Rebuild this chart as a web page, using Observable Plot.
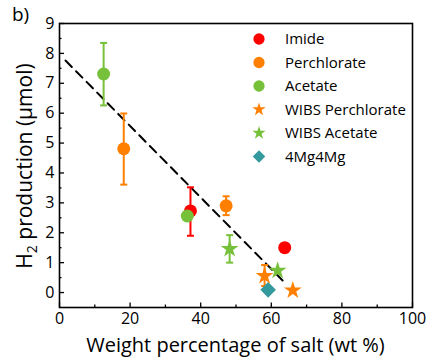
<!DOCTYPE html>
<html>
<head>
<meta charset="utf-8">
<script src="https://cdn.jsdelivr.net/npm/d3@7"></script>
<script src="https://cdn.jsdelivr.net/npm/@observablehq/plot@0.6"></script>
<style>
  body { margin: 0; background: #fff; }
  #chart { position: relative; width: 428px; height: 360px; }
  #chart .panel { position: absolute; left: 12px; top: 1px; font: 19px "Open Sans", sans-serif; color: #000; }
</style>
</head>
<body>
<div id="chart"><div class="panel">b)</div></div>
<script>
// Series definitions
const seriesNames = ["Imide", "Perchlorate", "Acetate", "WIBS Perchlorate", "WIBS Acetate", "4Mg4Mg"];
const seriesColors = ["#ff0000", "#ff8000", "#77c13a", "#ff8000", "#77c13a", "#33999c"];
const seriesSymbols = ["circle", "circle", "circle", "star", "star", "diamond2"];

// Points (in drawing order)
const pointSeries = ["Perchlorate", "Acetate", "Imide", "Acetate", "Perchlorate", "WIBS Acetate", "Imide", "WIBS Acetate", "WIBS Perchlorate", "4Mg4Mg", "WIBS Perchlorate"];
const pointX =      [18.2, 12.5, 37.1, 36.2, 47.2, 48.2, 63.8, 61.8, 58.1, 59.1, 66.1];
const pointY =      [4.81, 7.31, 2.73, 2.56, 2.90, 1.46, 1.50, 0.73, 0.56, 0.09, 0.07];
const errLow =      [3.61, 6.26, 1.90, null, 2.59, 1.00, null, null, 0.22, null, null];
const errHigh =     [5.99, 8.35, 3.52, null, 3.22, 1.92, null, null, 0.92, null, null];

// Dashed linear fit endpoints
const fitX = [1.7, 63.5];
const fitY = [7.76, 0.37];

// Axis ticks
const xTicks = [0, 20, 40, 60, 80, 100];
const xMinor = [10, 30, 50, 70, 90];
const yTicks = [0, 1, 2, 3, 4, 5, 6, 7, 8, 9];
const yMinor = [0.5, 1.5, 2.5, 3.5, 4.5, 5.5, 6.5, 7.5, 8.5];

const points = pointX.map((x, i) => ({
  series: pointSeries[i], x, y: pointY[i], lo: errLow[i], hi: errHigh[i]
}));
const errs = points.filter(d => d.lo != null);
const fit = fitX.map((x, i) => ({x, y: fitY[i]}));
const colorOf = s => seriesColors[seriesNames.indexOf(s)];
const symbolOf = s => seriesSymbols[seriesNames.indexOf(s)];
const symbolSize = { circle: 6.5, star: 5.6, diamond2: 7 };

const capSymbol = { draw(ctx) { ctx.moveTo(-3.5, 0); ctx.lineTo(3.5, 0); } };

const W = 428, H = 360;
const mL = 59, mR = 16, mT = 23, mB = 53;

const plot = Plot.plot({
  width: W, height: H,
  marginLeft: mL, marginRight: mR, marginTop: mT, marginBottom: mB,
  style: { fontFamily: "'Open Sans', sans-serif", fontSize: "16px", color: "#000", background: "#fff" },
  x: { domain: [0, 100] },
  y: { domain: [-0.5, 9] },
  marks: [
    Plot.axisX({ ticks: xTicks, tickSize: -4.5, tickPadding: 10, tickFormat: d => d, label: null, strokeWidth: 1.3, fontSize: 16 }),
    Plot.axisX({ ticks: xMinor, tickSize: -2.5, text: null, label: null, strokeWidth: 1.3 }),
    Plot.axisY({ ticks: yTicks, tickSize: -5, tickPadding: 10, tickFormat: d => d, label: null, strokeWidth: 1.3, fontSize: 16 }),
    Plot.axisY({ ticks: yMinor, tickSize: -2.5, text: null, label: null, strokeWidth: 1.3 }),
    Plot.line(fit, { x: "x", y: "y", stroke: "#000", strokeWidth: 2, strokeDasharray: "9,6" }),
    Plot.ruleX(errs, { x: "x", y1: "lo", y2: "hi", stroke: d => colorOf(d.series), strokeWidth: 2 }),
    Plot.dot(errs, { x: "x", y: "lo", symbol: () => capSymbol, stroke: d => colorOf(d.series), strokeWidth: 2, r: 4 }),
    Plot.dot(errs, { x: "x", y: "hi", symbol: () => capSymbol, stroke: d => colorOf(d.series), strokeWidth: 2, r: 4 }),
    Plot.dot(points, { x: "x", y: "y", symbol: d => symbolOf(d.series), fill: d => colorOf(d.series), r: d => symbolSize[symbolOf(d.series)] }),
    Plot.frame({ stroke: "#000", strokeWidth: 1.6 })
  ],
  color: { type: "identity" },
  symbol: { type: "identity" },
  r: { type: "identity" }
});

const svg = d3.select(plot);
// Axis titles
svg.append("text")
  .attr("x", mL + (W - mL - mR) / 2).attr("y", 352)
  .attr("text-anchor", "middle")
  .style("font", "20px 'Open Sans', sans-serif").attr("fill", "#000")
  .text("Weight percentage of salt (wt %)");
const yl = svg.append("text")
  .attr("transform", `translate(32, 166) rotate(-90)`)
  .attr("text-anchor", "middle")
  .style("font", "21px 'Open Sans', sans-serif").attr("fill", "#000");
yl.append("tspan").text("H");
yl.append("tspan").attr("font-size", "14px").attr("dy", "5").text("2");
yl.append("tspan").attr("dy", "-5").text(" production (μmol)");

// Legend inside the frame
const lg = svg.append("g").attr("transform", "translate(259, 39)");
seriesNames.forEach((name, i) => {
  const g = lg.append("g").attr("transform", `translate(0, ${i * 23.5})`);
  const sym = seriesSymbols[i];
  const type = sym === "circle" ? d3.symbolCircle : sym === "star" ? d3.symbolStar : d3.symbolDiamond2;
  const size = sym === "circle" ? 100 : sym === "star" ? 55 : 100;
  g.append("path").attr("d", d3.symbol(type, size)()).attr("fill", seriesColors[i]);
  g.append("text").attr("x", 26).attr("dy", "0.36em").attr("text-anchor", "start")
    .style("font", "15px 'Open Sans', sans-serif").attr("fill", "#000").text(name);
});

document.getElementById("chart").appendChild(plot);
</script>
</body>
</html>
